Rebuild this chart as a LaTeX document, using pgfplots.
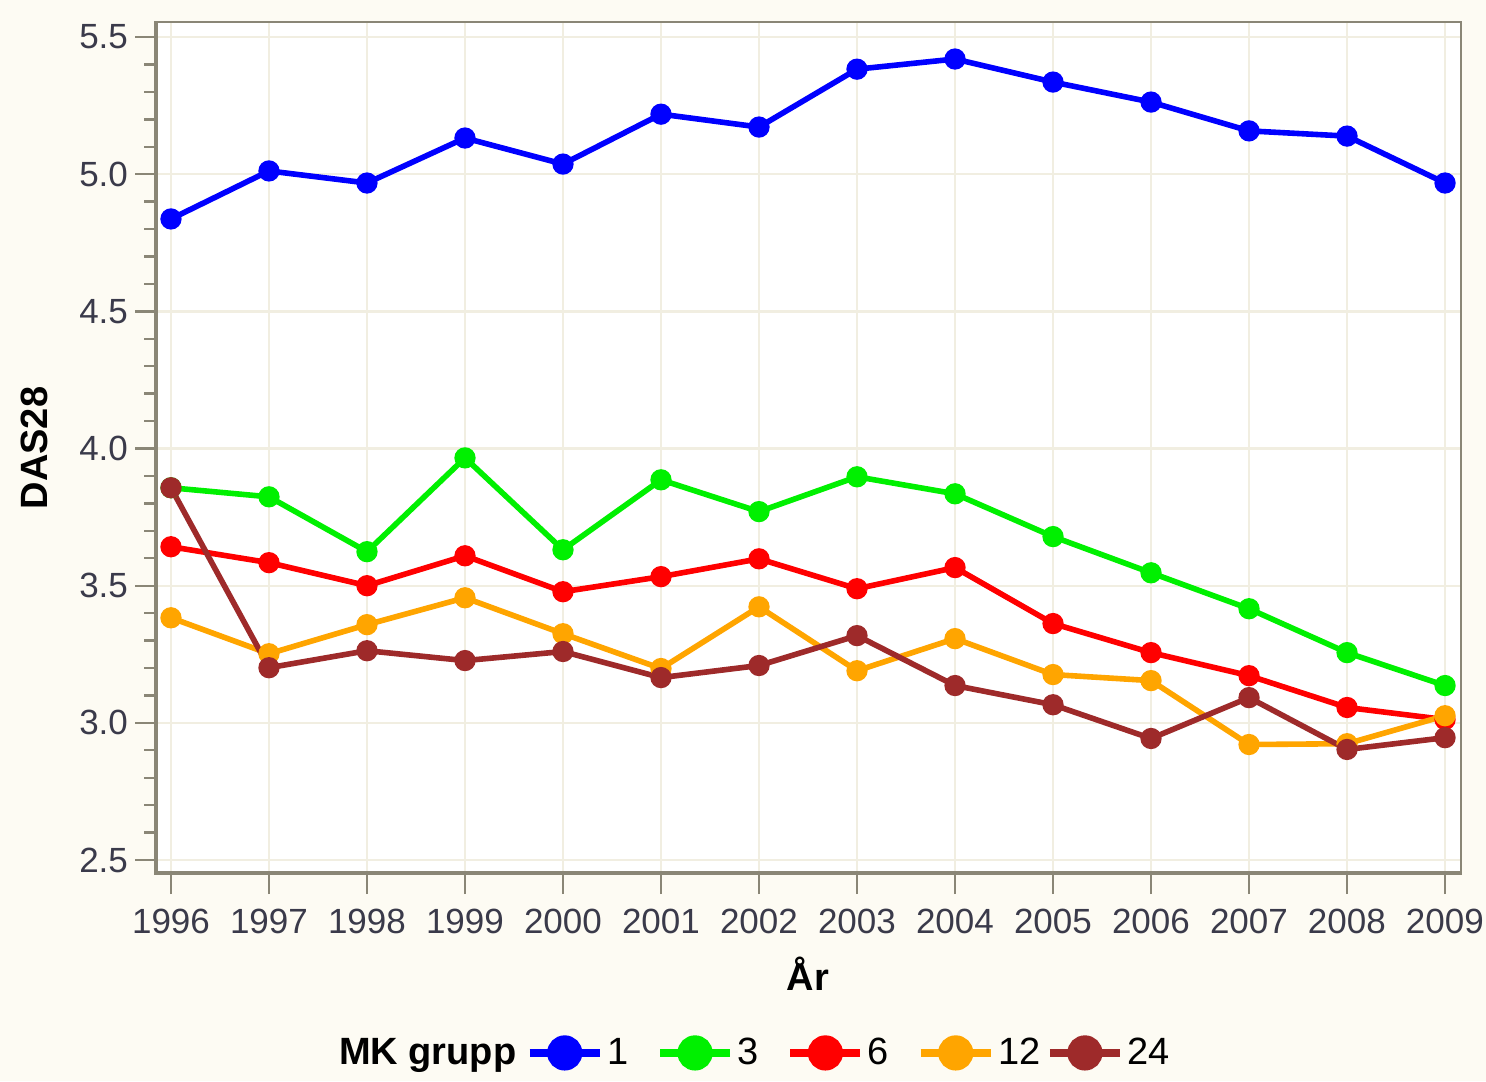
\documentclass[border=0pt]{standalone}
\usepackage{pgfplots}
\pgfplotsset{compat=1.18}
\usepackage{fontspec}
\setmainfont{Liberation Sans}
\definecolor{bgc}{HTML}{FDFBF3}
\definecolor{gridc}{HTML}{F1EEE1}
\definecolor{axc}{HTML}{8A8676}
\definecolor{tickc}{HTML}{3A3A4A}
\definecolor{c1}{HTML}{0000FF}
\definecolor{c3}{HTML}{00F000}
\definecolor{c6}{HTML}{FF0000}
\definecolor{c12}{HTML}{FFA500}
\definecolor{c24}{HTML}{9E2A2A}
\begin{document}
\begin{tikzpicture}
\fill[bgc] (0,0) rectangle (743pt,540.5pt);
\begin{axis}[
  at={(77.5pt,103.5pt)}, anchor=south west,
  scale only axis, width=653pt, height=426pt,
  axis background/.style={fill=white},
  xmin=1995.837, xmax=2009.163,
  ymin=2.449, ymax=5.555,
  xtick={1996,...,2009},
  ytick={2.5,3.0,...,5.5},
  minor y tick num=4,
  tick align=outside,
  major tick length=10pt, minor tick length=5.5pt,
  every tick/.style={axc, line width=1.2pt},
  xtick pos=bottom, ytick pos=left,
  grid=major,
  major grid style={gridc, line width=1.2pt},
  axis line style={axc, line width=1.4pt},
  tick label style={font=\fontsize{17.5}{20}\selectfont, text=tickc},
  /pgf/number format/assume math mode=true,
  x tick label style={/pgf/number format/1000 sep={}, yshift=-4pt},
  y tick label style={/pgf/number format/.cd, fixed, fixed zerofill, precision=1},
  xlabel={\bfseries År},
  ylabel={\bfseries DAS28},
  label style={font=\fontsize{19}{22}\selectfont},
  xlabel style={at={(axis description cs:0.5,-0.117)}, anchor=center},
  ylabel style={at={(axis description cs:-0.092,0.5)}, anchor=center},
  every axis plot/.append style={line width=2.8pt, mark=*, mark size=3.9pt},
  legend columns=-1,
  legend style={at={(axis description cs:0.459,-0.21)}, anchor=center, draw=none, fill=none,
    font=\fontsize{19}{22}\selectfont, text=black,
    /tikz/every even column/.append style={column sep=12pt}},
  legend cell align=left,
  legend image code/.code={
    \draw[mark repeat=2, mark phase=2, #1, line width=3.6pt, mark size=7pt]
      plot coordinates {(0pt,0pt) (17.5pt,0pt) (35pt,0pt)};
  },
]
\addlegendimage{empty legend}
\addlegendentry{\makebox[79.5pt][l]{\bfseries MK grupp}}
\addplot[c1, mark options={fill=c1}] coordinates {
(1996,4.837) (1997,5.012) (1998,4.968) (1999,5.132) (2000,5.037) (2001,5.219) (2002,5.172)
(2003,5.383) (2004,5.420) (2005,5.336) (2006,5.263) (2007,5.158) (2008,5.139) (2009,4.968)};
\addlegendentry{1}
\addplot[c3, mark options={fill=c3}] coordinates {
(1996,3.857) (1997,3.824) (1998,3.624) (1999,3.966) (2000,3.631) (2001,3.886) (2002,3.770)
(2003,3.897) (2004,3.835) (2005,3.679) (2006,3.547) (2007,3.416) (2008,3.256) (2009,3.136)};
\addlegendentry{3}
\addplot[c6, mark options={fill=c6}] coordinates {
(1996,3.642) (1997,3.584) (1998,3.500) (1999,3.609) (2000,3.478) (2001,3.533) (2002,3.598)
(2003,3.489) (2004,3.566) (2005,3.362) (2006,3.256) (2007,3.172) (2008,3.056) (2009,3.012)};
\addlegendentry{6}
\addplot[c12, mark options={fill=c12}] coordinates {
(1996,3.383) (1997,3.252) (1998,3.358) (1999,3.456) (2000,3.325) (2001,3.198) (2002,3.423)
(2003,3.190) (2004,3.307) (2005,3.176) (2006,3.154) (2007,2.921) (2008,2.924) (2009,3.026)};
\addlegendentry{\makebox[10pt][l]{12}}
\addplot[c24, mark options={fill=c24}] coordinates {
(1996,3.857) (1997,3.201) (1998,3.263) (1999,3.227) (2000,3.260) (2001,3.165) (2002,3.209)
(2003,3.318) (2004,3.136) (2005,3.066) (2006,2.943) (2007,3.092) (2008,2.903) (2009,2.946)};
\addlegendentry{24}
\draw[axc, line width=2.6pt] (rel axis cs:0,1) -- (rel axis cs:0,0) -- (rel axis cs:1,0);
\end{axis}
\pgfresetboundingbox
\useasboundingbox (0,0) rectangle (743pt,540.5pt);
\end{tikzpicture}
\end{document}
